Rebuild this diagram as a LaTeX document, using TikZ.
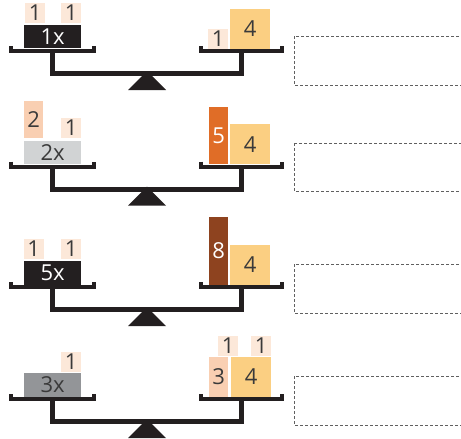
\documentclass[tikz,border=0pt]{standalone}
\usepackage{fontspec}
\setmainfont{Open Sans}
\usepackage{tikz}
\definecolor{ink}{RGB}{35, 31, 32}
\definecolor{peach}{RGB}{252, 232, 217}
\definecolor{salmon}{RGB}{249, 207, 178}
\definecolor{sand}{RGB}{251, 207, 130}
\definecolor{burnt}{RGB}{224, 109, 39}
\definecolor{brown}{RGB}{142, 67, 31}
\definecolor{lgray}{RGB}{209, 211, 212}
\definecolor{mgray}{RGB}{147, 149, 152}
\definecolor{txt}{RGB}{58, 58, 58}
\definecolor{dashgray}{RGB}{96, 96, 96}

\tikzset{
  wt/.style={inner sep=0pt, anchor=south west, text=txt},
  one/.style={wt, fill=peach, minimum width=20pt, minimum height=20pt},
  four/.style={wt, fill=sand, minimum width=40pt, minimum height=40pt},
  xbox/.style={wt, minimum width=57pt, minimum height=23.5pt},
  bar/.style={wt, minimum width=19pt},
  arm/.style={draw=ink, line width=4pt},
  answer/.style={draw=dashgray, line width=1pt, dash pattern=on 3pt off 2pt},
}

\begin{document}
\begin{tikzpicture}[x=1pt, y=-1pt, font=\fontsize{22}{22}\selectfont]
        \clip (0,0) rectangle (461,439);
        % the four balances
        \foreach \py in {51,166.5,287,399} {
          \begin{scope}[shift={(0,\py)}]
            \fill[ink] (147,20) -- (128,39) -- (166,39) -- cycle;
            \draw[ink, line width=5pt] (52.5,0) -- (52.5,22.5) -- (241,22.5) -- (241,0);
            \draw[arm] (11,-5) -- (11,0) -- (94,0) -- (94,-5);
            \draw[arm] (201,-5) -- (201,0) -- (282,0) -- (282,-5);
          \end{scope}
        }
        % answer boxes
        \draw[answer] (294,36) rectangle (470,85);
        \draw[answer] (294,143) rectangle (470,191);
        \draw[answer] (294,264) rectangle (470,313);
        \draw[answer] (294,376) rectangle (470,425);
        % 1
        \node[one] (a1) at (25,23) {1};
        \node[one] (a2) at (61,23) {1};
        \node[xbox, fill=ink, text=white] (ax) at (24,48.5) {1x};
        \node[one] (a3) at (208,49) {1};
        \node[four] (a4) at (230,49) {4};
        % 2
        \node[bar, fill=salmon, minimum height=37pt] (b1) at (24,138) {2};
        \node[one] (b2) at (61,138) {1};
        \node[xbox, fill=lgray] (bx) at (24,164.5) {2x};
        \node[bar, fill=burnt, text=white, minimum height=57pt] (b3) at (209,164.5) {5};
        \node[four] (b4) at (230,164.5) {4};
        % 3
        \node[one] (c1) at (23.5,259) {1};
        \node[one] (c2) at (61,259) {1};
        \node[xbox, fill=ink, text=white] (cx) at (24,285) {5x};
        \node[bar, fill=brown, text=white, minimum height=68pt] (c3) at (209,285) {8};
        \node[four] (c4) at (230,285) {4};
        % 4
        \node[one] (d1) at (61,372) {1};
        \node[xbox, fill=mgray] (dx) at (24,397) {3x};
        \node[bar, fill=salmon, minimum height=40pt] (d2) at (209,397) {3};
        \node[four] (d3) at (231,397) {4};
        \node[one] (d4) at (218,356) {1};
        \node[one] (d5) at (251,356) {1};
      \end{tikzpicture}
\end{document}
